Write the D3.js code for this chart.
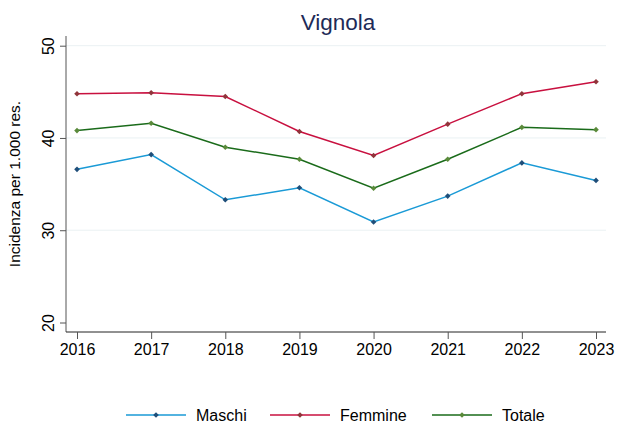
<!DOCTYPE html>
<html>
<head>
<meta charset="utf-8">
<script src="https://d3js.org/d3.v7.min.js"></script>
<style>
  body { margin: 0; background: #fff; }
  svg { font-family: "Liberation Sans", Arial, sans-serif; }
</style>
</head>
<body>
<svg width="633" height="430"></svg>
<script>
// Data
var years = [2016, 2017, 2018, 2019, 2020, 2021, 2022, 2023];
var maschi = [36.6, 38.2, 33.3, 34.6, 30.9, 33.7, 37.3, 35.4];
var femmine = [44.8, 44.9, 44.5, 40.7, 38.1, 41.5, 44.8, 46.1];
var totale = [40.8, 41.6, 39.0, 37.7, 34.55, 37.7, 41.15, 40.9];
var yTicks = [20, 30, 40, 50];
var gridTicks = [30, 40, 50];

var series = [
  { name: "Maschi", values: maschi, line: "#1a9ad6", mark: "#1f4e79" },
  { name: "Femmine", values: femmine, line: "#c8103f", mark: "#90353b" },
  { name: "Totale", values: totale, line: "#1a6b1a", mark: "#5a8a3a" }
];

var svg = d3.select("svg");

var x = d3.scaleLinear().domain([2016, 2023]).range([77, 596]);
var y = d3.scaleLinear().domain([20, 50]).range([322.5, 45.7]);

// gridlines
svg.append("g")
  .selectAll("line")
  .data(gridTicks)
  .enter().append("line")
    .attr("x1", 66).attr("x2", 606)
    .attr("y1", function (d) { return y(d); })
    .attr("y2", function (d) { return y(d); })
    .attr("stroke", "#eaf1f3")
    .attr("stroke-width", 1);

// y axis
var yAxis = svg.append("g")
  .attr("transform", "translate(66,0)")
  .call(d3.axisLeft(y).tickValues(yTicks).tickSize(6).tickPadding(6));
yAxis.select(".domain").attr("d", "M0,36V332").attr("stroke", "#555");
yAxis.selectAll(".tick line").attr("stroke", "#555");
yAxis.selectAll(".tick text")
  .attr("font-size", 16)
  .attr("fill", "#000")
  .attr("transform", "rotate(-90)")
  .attr("text-anchor", "middle")
  .attr("x", 0)
  .attr("dy", 0)
  .attr("y", -12);

// x axis
var xAxis = svg.append("g")
  .attr("transform", "translate(0,332)")
  .call(d3.axisBottom(x).tickValues(years).tickFormat(d3.format("d")).tickSize(7).tickPadding(5));
xAxis.select(".domain").attr("d", "M66,0H606").attr("stroke", "#222");
xAxis.selectAll(".tick line").attr("stroke", "#555");
xAxis.selectAll(".tick text").attr("font-size", 16).attr("fill", "#000");

// axis title
svg.append("text")
  .attr("transform", "translate(20,184) rotate(-90)")
  .attr("text-anchor", "middle")
  .attr("font-size", 15.5)
  .attr("fill", "#000")
  .text("Incidenza per 1.000 res.");

// title
svg.append("text")
  .attr("x", 338).attr("y", 30)
  .attr("text-anchor", "middle")
  .attr("font-size", 22.5)
  .attr("fill", "#1e2b57")
  .text("Vignola");

var line = d3.line()
  .x(function (d, i) { return x(years[i]); })
  .y(function (d) { return y(d); });

var diamond = d3.symbol().type(d3.symbolDiamond2).size(20);

series.forEach(function (s) {
  svg.append("path")
    .datum(s.values)
    .attr("fill", "none")
    .attr("stroke", s.line)
    .attr("stroke-width", 1.5)
    .attr("d", line);
  svg.append("g")
    .selectAll("path")
    .data(s.values)
    .enter().append("path")
      .attr("d", diamond)
      .attr("fill", s.mark)
      .attr("transform", function (d, i) { return "translate(" + x(years[i]) + "," + y(d) + ")"; });
});

// legend
var legendX = [126, 270, 432];
var lg = svg.append("g");
series.forEach(function (s, i) {
  var g = lg.append("g").attr("transform", "translate(" + legendX[i] + ",415)");
  g.append("line").attr("x1", 0).attr("x2", 60).attr("y1", 0).attr("y2", 0)
    .attr("stroke", s.line).attr("stroke-width", 1.5);
  g.append("path").attr("d", diamond).attr("fill", s.mark)
    .attr("transform", "translate(30,0)");
  g.append("text").attr("x", 70).attr("y", 6)
    .attr("font-size", 16).attr("fill", "#000")
    .text(s.name);
});
</script>
</body>
</html>
